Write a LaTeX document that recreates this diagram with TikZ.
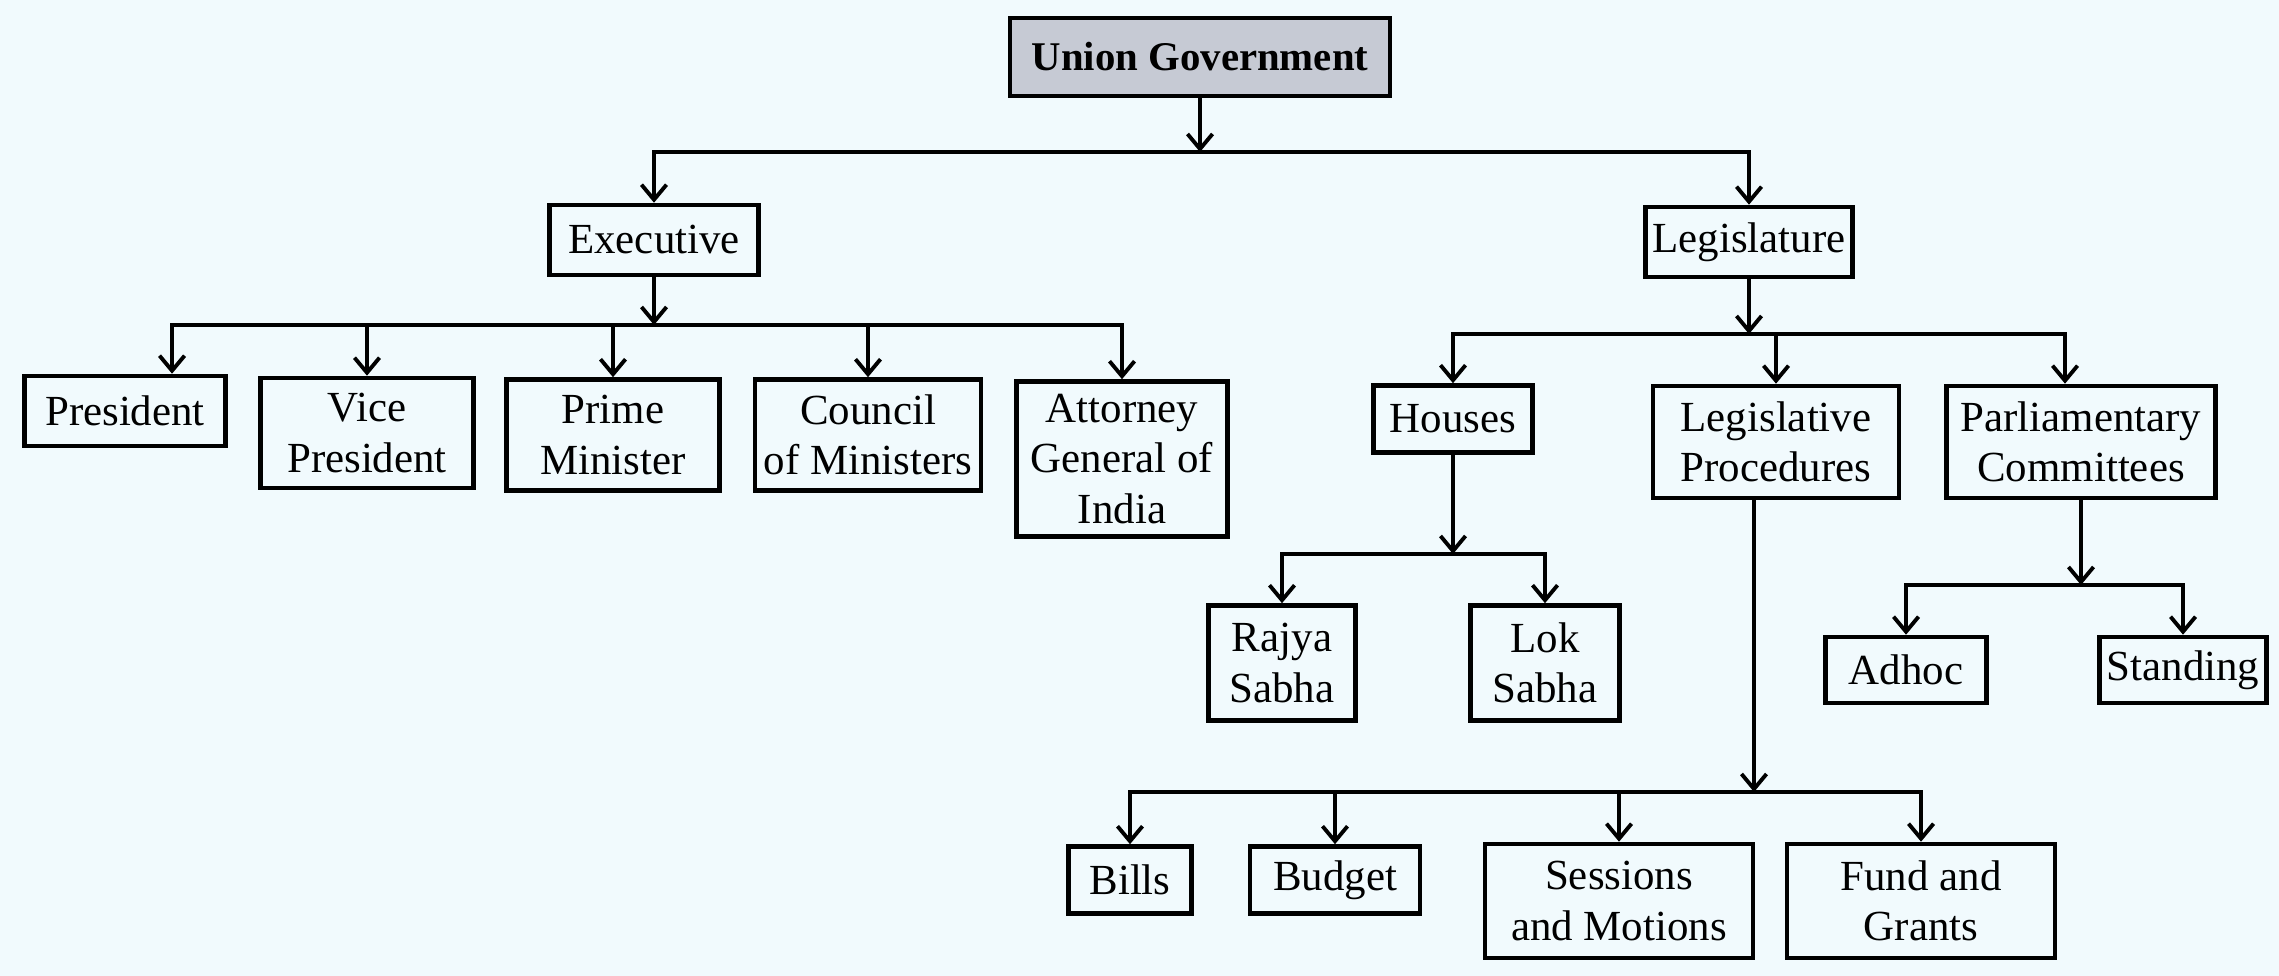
\documentclass[tikz,border=0pt]{standalone}
\usepackage{fontspec}
\setmainfont{Liberation Serif}
\usetikzlibrary{arrows.meta}
\definecolor{paper}{RGB}{241,250,253}
\definecolor{headgray}{RGB}{198,202,212}
\tikzset{
  box/.style 2 args={draw, line width=1.3pt, align=center, inner xsep=2pt, inner ysep=1pt,
    minimum width=#1*0.01cm, minimum height=#2*0.01cm,
    font=\fontsize{12.2}{14.3}\selectfont},
  arr/.style={line width=1.1pt, -{Straight Barb[length=1.5mm,width=2.5mm,line width=1.1pt]}}
}
\begin{document}
\begin{tikzpicture}[x=0.01cm,y=-0.01cm]
    \fill[paper] (0,0) rectangle (2279,976);
    \useasboundingbox (0,0) rectangle (2279,976);
    % top
    \node[box={380}{78}, fill=headgray, font=\fontsize{11.6}{14}\selectfont\bfseries] (ug) at (1200,57) {Union Government};
    \node[box={209}{70}] (exec) at (654,240) {Executive};
    \node[box={207}{70}] (leg) at (1749,242) {Legislature};
    % executive side
    \node[box={201}{70}] (pres) at (125,411) {President};
    \node[box={213}{110}] (vp) at (367,433) {Vice\\President};
    \node[box={213}{111}] (pm) at (613,435) {Prime\\Minister};
    \node[box={226}{111}] (com) at (868,435) {Council\\of Ministers};
    \node[box={211}{155}] (ag) at (1122,459) {Attorney\\General of\\India};
    % legislature side
    \node[box={159}{67}] (hou) at (1453,419) {Houses};
    \node[box={246}{112}] (lp) at (1776,442) {Legislative\\Procedures};
    \node[box={269}{112}] (pc) at (2081,442) {Parliamentary\\Committees};
    \node[box={147}{115}] (rs) at (1282,663) {Rajya\\Sabha};
    \node[box={149}{115}] (ls) at (1545,663) {Lok\\Sabha};
    \node[box={161}{66}] (adhoc) at (1906,670) {Adhoc};
    \node[box={159}{66}] (stand) at (2183,670) {Standing};
    \node[box={123}{67}] (bills) at (1130,880) {Bills};
    \node[box={170}{67}] (budget) at (1335,880) {Budget};
    \node[box={268}{114}] (sess) at (1619,901) {Sessions\\and Motions};
    \node[box={268}{114}] (fund) at (1921,901) {Fund and\\Grants};
    % connectors
    \coordinate (ugbar) at (ug.south |- 0,152);
    \draw[arr] (ug.south) -- (ugbar);
    \draw[arr] (ugbar) -| (exec);
    \draw[arr] (ugbar) -| (leg);
    \coordinate (exbar) at (exec.south |- 0,325);
    \draw[arr] (exec.south) -- (exbar);
    \draw[arr] (exbar) -| ([xshift=0.47cm]pres.north);
    \foreach \n in {vp,pm,com,ag}
        \draw[arr] (exbar) -| (\n);
    \coordinate (lgbar) at (leg.south |- 0,334);
    \draw[arr] (leg.south) -- (lgbar);
    \foreach \n in {hou,lp}
        \draw[arr] (lgbar) -| (\n);
    \draw[arr] (lgbar) -| ([xshift=-0.16cm]pc.north);
    \coordinate (hobar) at (hou.south |- 0,554);
    \draw[arr] (hou.south) -- (hobar);
    \foreach \n in {rs,ls}
        \draw[arr] (hobar) -| (\n);
    \coordinate (pcbar) at (pc.south |- 0,585);
    \draw[arr] (pc.south) -- (pcbar);
    \foreach \n in {adhoc,stand}
        \draw[arr] (pcbar) -| (\n);
    \coordinate (lpbar) at ([xshift=-0.22cm]lp.south |- 0,792);
    \draw[arr] ([xshift=-0.22cm]lp.south) -- (lpbar);
    \foreach \n in {bills,budget,sess,fund}
        \draw[arr] (lpbar) -| (\n);
\end{tikzpicture}
\end{document}
